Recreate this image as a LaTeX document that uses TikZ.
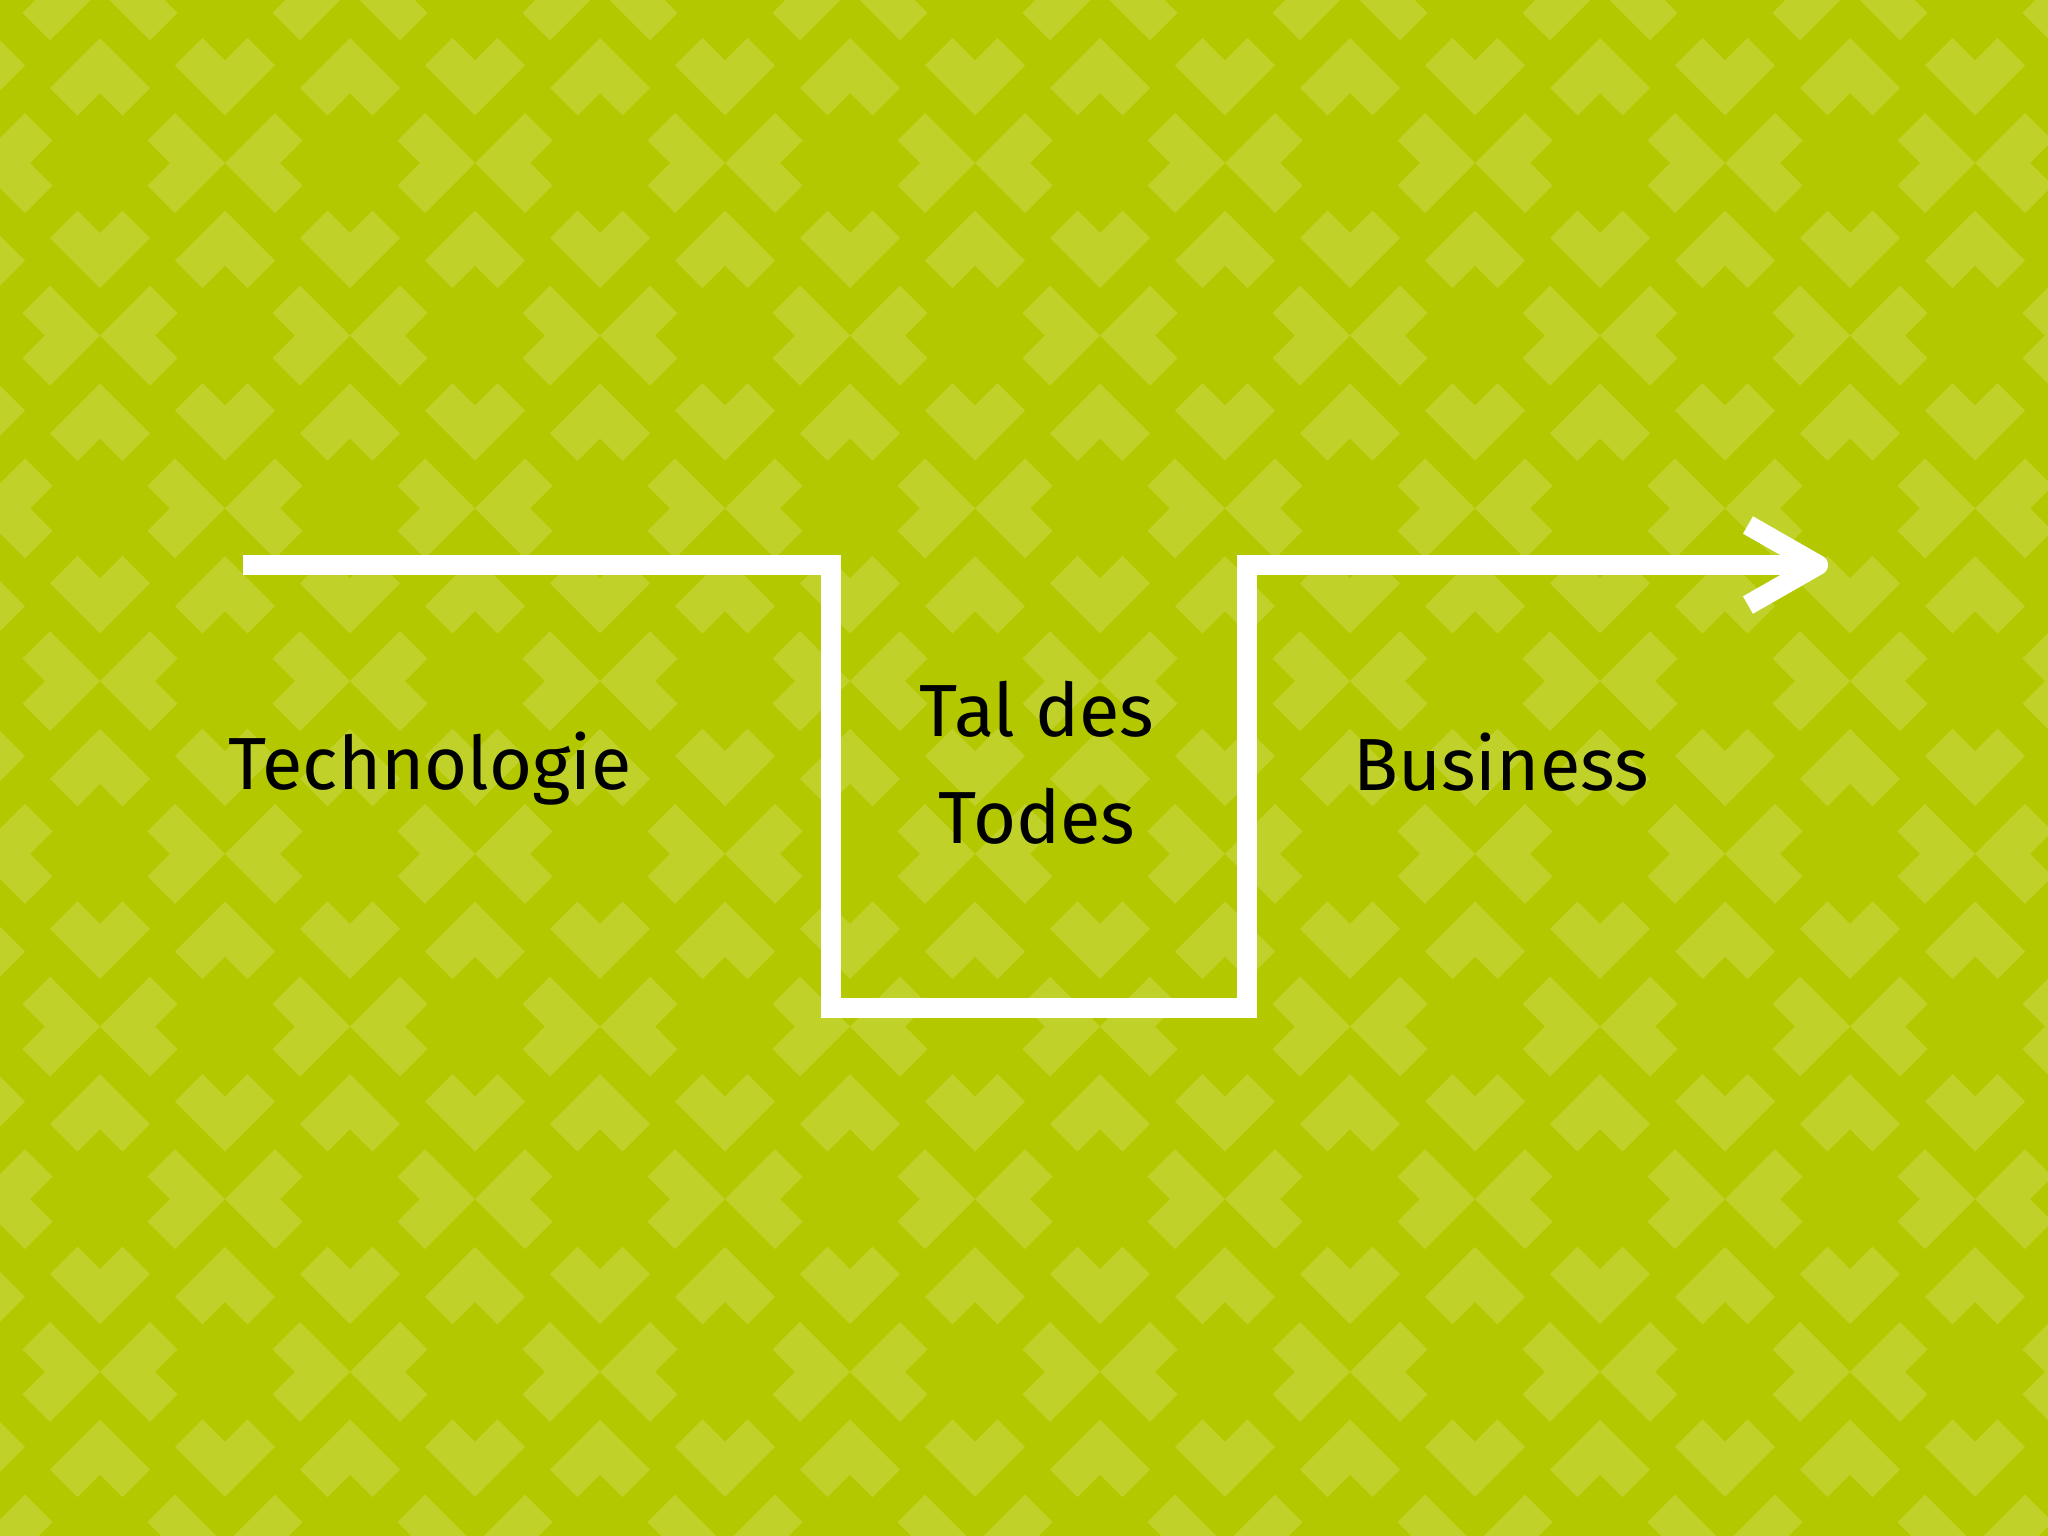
\documentclass[tikz,border=0pt]{standalone}
\usepackage{fontspec}
\setmainfont{Fira Sans}
\usetikzlibrary{arrows.meta}

\definecolor{lime}{HTML}{B4C800}
\definecolor{limelight}{HTML}{C0D22A}

\begin{document}
\begin{tikzpicture}[x=0.01cm ,y=-0.01cm ,
word/.style ={ font=\fontsize{21pt}{30.4pt}\selectfont , text=black , inner sep=0pt },
route/.style ={ draw=white , line width=0.2cm , line join=miter ,
  -{Straight Barb[length=0.7cm, width=0.8cm, line cap=butt, line join=round]} },
arm/.pic ={ \fill[limelight] (125,0) -- (75,-50) -- (47.5,-22.5) -- (70,0)
  -- (47.5,22.5) -- (75,50) -- cycle; }]
\useasboundingbox (0,0) rectangle (2048,1536);
\fill[lime] (0,0) rectangle (2048,1536);
% background pattern
\begin{scope}
\clip (0,0) rectangle (2048,1536);
\foreach \r in {0,...,9} {
  \pgfmathsetmacro{\yy}{-9.7+172.7*\r}
  \pgfmathsetmacro{\xo}{mod(\r,2)==0 ? 225 : 100}
  \foreach \k in {-1,...,8}
    \foreach \a in {0,90,180,270}
      \pic[rotate=\a] at (\xo+250*\k,\yy) {arm};
}
\end{scope}
% the way through the valley
\coordinate (S) at (243,565);
\coordinate (D1) at (831,565);
\coordinate (D2) at (831,1008);
\coordinate (U1) at (1247,1008);
\coordinate (U2) at (1247,565);
\coordinate (E) at (1828,565);
\draw[route] (S) -- (D1) -- (D2) -- (U1) -- (U2) -- (E);
\node[word, anchor=base] (T) at (430,789) {Technologie};
\node[word, anchor=base, align=center] (V) at (1037,843) {Tal des\\Todes};
\node[word, anchor=base] (B) at (1501,790) {Business};
\end{tikzpicture}
\end{document}
